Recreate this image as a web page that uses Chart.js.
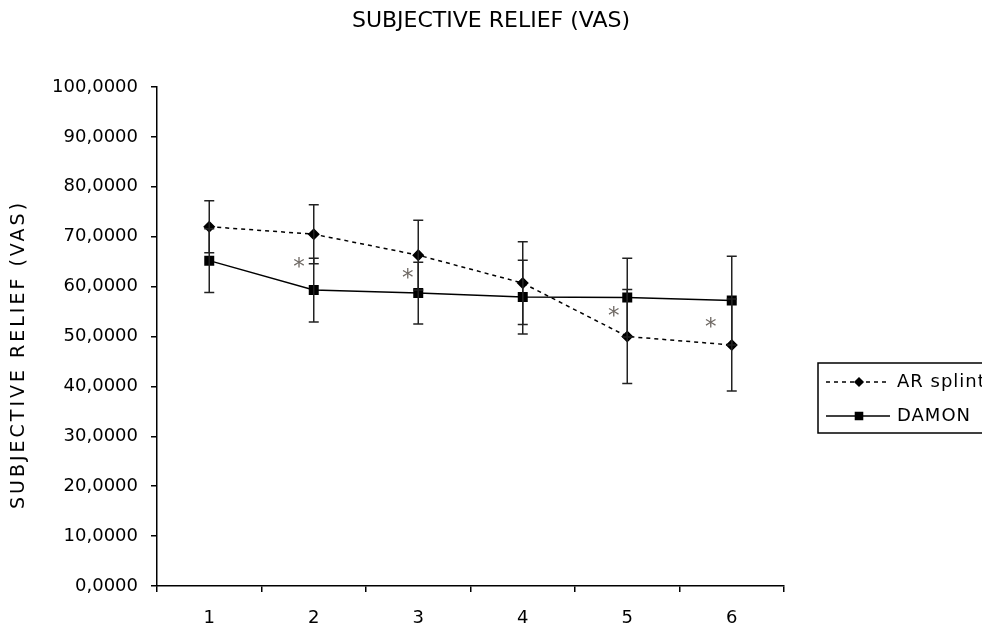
<!DOCTYPE html>
<html>
<head>
<meta charset="utf-8">
<script src="https://cdn.jsdelivr.net/npm/chart.js@4.4.1/dist/chart.umd.min.js"></script>
<style>
    html, body { margin: 0; padding: 0; background: #fff; }
    #wrap { width: 982px; height: 627px; }
</style>
</head>
<body>
<div id="wrap"><canvas id="reliefChart"></canvas></div>
<script>
// Data
const sessions = ["1", "2", "3", "4", "5", "6"];
const arSplint = [72.0, 70.5, 66.3, 60.7, 50.0, 48.3];
const arSplintErr = [5.2, 5.9, 7.0, 8.3, 9.4, 9.2];
const damon = [65.2, 59.3, 58.7, 57.9, 57.8, 57.2];
const damonErr = [6.4, 6.4, 6.2, 7.4, 7.9, 8.9];
const yTicks = [0, 10, 20, 30, 40, 50, 60, 70, 80, 90, 100];
// Significance stars (x = category index, y = VAS value)
const starX = [0.86, 1.9, 3.87, 4.8];
const starY = [64.3, 62.1, 54.5, 52.3];

const chartTitle = "SUBJECTIVE RELIEF (VAS)";
const yTitle = "SUBJECTIVE RELIEF (VAS)";
const FONT = "'DejaVu Sans', sans-serif";
const reliefCtx = document.getElementById("reliefChart");

// Titles (drawn by hand so the main one centres on the whole canvas)
const titles = {
    id: "titles",
    afterDraw(chart) {
        const { ctx, chartArea, width } = chart;
        ctx.save();
        ctx.fillStyle = "#000";
        ctx.textAlign = "center";
        ctx.textBaseline = "middle";
        ctx.font = "22px " + FONT;
        ctx.fillText(chartTitle, width / 2, 21);

        ctx.translate(19, (chartArea.top + chartArea.bottom) / 2 + 18);
        ctx.rotate(-Math.PI / 2);
        ctx.font = "19px " + FONT;
        if ("letterSpacing" in ctx) ctx.letterSpacing = "3px";
        ctx.fillText(yTitle, 0, 0);
        ctx.restore();
    }
};

// Error bars
const errorBars = {
    id: "errorBars",
    afterDatasetsDraw(chart) {
        const { ctx, scales: { x, y } } = chart;
        const errs = [arSplintErr, damonErr];
        ctx.save();
        ctx.strokeStyle = "#222";
        ctx.lineWidth = 1.5;
        chart.data.datasets.forEach((ds, d) => {
            ds.data.forEach((v, i) => {
                const px = x.getPixelForValue(i);
                const top = y.getPixelForValue(v + errs[d][i]);
                const bot = y.getPixelForValue(v - errs[d][i]);
                ctx.beginPath();
                ctx.moveTo(px, top); ctx.lineTo(px, bot);
                ctx.moveTo(px - 5, top); ctx.lineTo(px + 5, top);
                ctx.moveTo(px - 5, bot); ctx.lineTo(px + 5, bot);
                ctx.stroke();
            });
        });
        ctx.restore();
    }
};

// Stars
const stars = {
    id: "stars",
    afterDatasetsDraw(chart) {
        const { ctx, scales: { x, y } } = chart;
        ctx.save();
        ctx.fillStyle = "#6f6964";
        ctx.font = "23px " + FONT;
        ctx.textAlign = "center";
        ctx.textBaseline = "alphabetic";
        starX.forEach((sx, i) => {
            ctx.fillText("*", x.getPixelForValue(sx), y.getPixelForValue(starY[i]) + 9);
        });
        ctx.restore();
    }
};

// Boxed legend on the right (runs off the edge like the original)
const boxLegend = {
    id: "boxLegend",
    afterDraw(chart) {
        const { ctx, chartArea } = chart;
        const left = chartArea.right + 34;
        const top = chartArea.top + 276;
        ctx.save();
        ctx.strokeStyle = "#000";
        ctx.lineWidth = 1.5;
        ctx.strokeRect(left, top, 220, 70);
        chart.data.datasets.forEach((ds, i) => {
            const cy = top + 19 + i * 34;
            ctx.strokeStyle = "#000";
            ctx.lineWidth = ds.borderWidth;
            ctx.setLineDash(ds.borderDash || []);
            ctx.beginPath();
            ctx.moveTo(left + 8, cy);
            ctx.lineTo(left + 72, cy);
            ctx.stroke();
            ctx.setLineDash([]);
            ctx.fillStyle = "#000";
            Chart.helpers.drawPoint(ctx, {
                pointStyle: ds.pointStyle,
                radius: ds.pointRadius - 1,
                rotation: 0,
                borderWidth: 1
            }, left + 41, cy);
            ctx.fillStyle = "#000";
            ctx.font = "18px " + FONT;
            ctx.textBaseline = "middle";
            if ("letterSpacing" in ctx) ctx.letterSpacing = "1px";
            ctx.fillText(ds.label, left + 79, cy);
            if ("letterSpacing" in ctx) ctx.letterSpacing = "0px";
        });
        ctx.restore();
    }
};

new Chart(reliefCtx, {
    type: "line",
    data: {
        labels: sessions,
        datasets: [{
            label: "AR splint",
            data: arSplint,
            borderColor: "#000",
            borderWidth: 1.5,
            borderDash: [4, 4],
            pointStyle: "rectRot",
            pointRadius: 5,
            pointBackgroundColor: "#000",
            pointBorderColor: "#000",
            tension: 0
        }, {
            label: "DAMON",
            data: damon,
            borderColor: "#000",
            borderWidth: 1.5,
            pointStyle: "rect",
            pointRadius: 6,
            pointBackgroundColor: "#000",
            pointBorderColor: "#000",
            tension: 0
        }]
    },
    options: {
        responsive: true,
        maintainAspectRatio: false,
        animation: false,
        layout: { padding: { left: 0, right: 198, top: 87, bottom: 0 } },
        plugins: {
            legend: { display: false },
            tooltip: { enabled: false },
            title: { display: false }
        },
        scales: {
            x: {
                offset: true,
                afterFit: s => { s.height = 41; },
                grid: { offset: true, drawOnChartArea: false, tickLength: 6, color: "#000", lineWidth: 1.5 },
                border: { color: "#000", width: 1.5 },
                ticks: { color: "#000", font: { family: FONT, size: 18 }, padding: 16, maxRotation: 0 }
            },
            y: {
                min: 0,
                max: 100,
                afterFit: s => { s.width = 157; },
                afterBuildTicks: s => { s.ticks = yTicks.map(v => ({ value: v })); },
                grid: { drawOnChartArea: false, tickLength: 6, color: "#000", lineWidth: 1.5 },
                border: { color: "#000", width: 1.5 },
                ticks: {
                    color: "#000",
                    font: { family: FONT, size: 18 },
                    padding: 13,
                    callback: v => v.toFixed(4).replace(".", ",")
                }
            }
        }
    },
    plugins: [errorBars, stars, boxLegend, titles]
});
</script>
</body>
</html>
